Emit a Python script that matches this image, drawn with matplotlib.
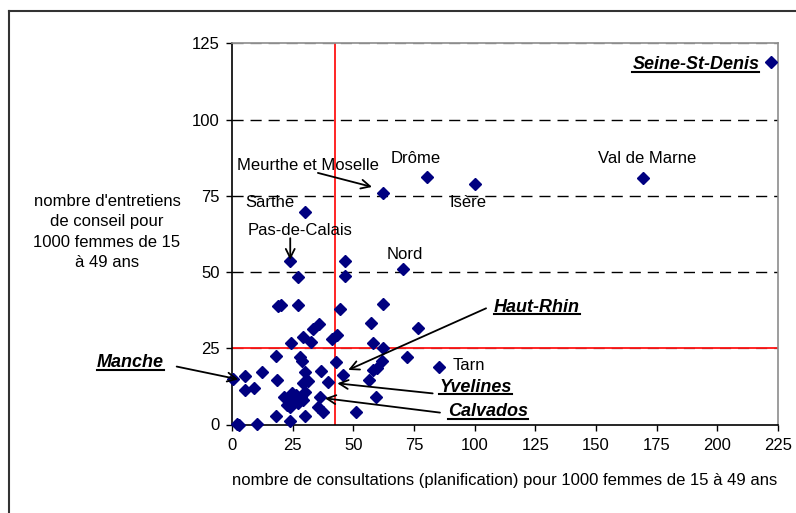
import matplotlib.pyplot as plt
from matplotlib.lines import Line2D

plt.rcParams['font.family'] = ['Liberation Sans', 'DejaVu Sans']

# consultations (x) et entretiens (y) pour 1000 femmes de 15 a 49 ans
consultations = [222.0, 169.5, 80.2, 100.1, 62.3, 30.1, 23.9, 46.6, 70.3, 27.3,
                 46.6, 19.1, 20.2, 27.3, 44.5, 62.1, 57.3, 76.5, 33.5, 36.0,
                 29.4, 32.6, 24.2, 41.1, 43.3, 58.2, 62.3, 72.0, 18.0, 28.0,
                 28.7, 42.7, 61.7, 85.3, 58.2, 59.6, 56.6, 45.9, 5.4, 12.2,
                 30.1, 36.7, 18.7, 39.4, 5.4, 9.1, 29.4, 31.4, 21.6, 23.5,
                 25.7, 28.4, 30.1, 23.9, 27.3, 29.4, 36.3, 59.3, 35.3, 37.6,
                 51.1, 18.0, 30.1, 23.9, 10.2, 1.9, 2.9, 0.3, 22.8, 26.5,
                 24.6]
entretiens = [118.8, 80.8, 81.3, 78.9, 76.0, 69.6, 53.7, 53.7, 51.0, 48.5,
              48.8, 38.7, 39.3, 39.3, 37.8, 39.5, 33.2, 31.6, 31.2, 33.0,
              28.8, 27.2, 26.6, 27.9, 29.5, 26.8, 25.2, 22.0, 22.5, 22.0,
              20.9, 20.5, 20.8, 18.8, 17.9, 18.4, 14.6, 16.2, 15.9, 17.3,
              17.3, 17.7, 14.6, 14.0, 11.3, 11.9, 13.7, 14.3, 9.1, 7.8,
              8.3, 8.9, 10.8, 5.6, 7.0, 8.0, 9.1, 9.1, 5.6, 4.2,
              4.0, 2.8, 2.8, 1.2, 0.2, 0.2, 0.0, 14.8, 6.4, 9.8,
              10.2]

seuil_x = 42.3
seuil_y = 25

fig = plt.figure(figsize=(7.96, 5.13), dpi=100)
ax = fig.add_axes([232 / 796, 1 - 424.5 / 513, 546 / 796, 381.2 / 513])

ax.set_xlim(0, 225)
ax.set_ylim(0, 125)
ax.set_xticks(range(0, 226, 25))
ax.set_yticks(range(0, 126, 25))
ax.tick_params(direction='out', length=4, width=1, labelsize=12, color='black')
ax.tick_params(axis='y', pad=5)
ax.tick_params(axis='x', pad=6)

for s in ['left', 'bottom']:
    ax.spines[s].set_color('black')
    ax.spines[s].set_linewidth(1.2)
for s in ['top', 'right']:
    ax.spines[s].set_color('#8c8c8c')
    ax.spines[s].set_linewidth(1.2)

# grille pointillee
for v in [25, 50, 75, 100, 125]:
    c = '#8c8c8c' if v in (25, 125) else 'black'
    ax.axhline(v, color=c, lw=1, linestyle=(0, (8, 5)), zorder=1)

# seuils en rouge
ax.axvline(seuil_x, color='red', lw=1.2, zorder=2)
ax.axhline(seuil_y, color='red', lw=1.2, zorder=2)

ax.plot(consultations, entretiens, 'D', color='#000080', ms=5.8, mec='#000080',
        clip_on=False, zorder=3)

# etiquettes simples
plain = dict(fontsize=12, ha='center', va='center', annotation_clip=False)
ax.annotate('Val de Marne', xy=(171, 87.1), **plain)
ax.annotate('Drôme', xy=(75.8, 87.1), **plain)
ax.annotate('Isère', xy=(97.2, 72.7), **plain)
ax.annotate('Sarthe', xy=(15.5, 72.9), **plain)
ax.annotate('Nord', xy=(71.2, 55.6), **plain)
ax.annotate('Tarn', xy=(97.5, 19.2), **plain)

arrow = dict(arrowstyle='->', lw=1.3, color='black', mutation_scale=16,
             shrinkA=0, shrinkB=0)
ax.annotate('', xy=(57.7, 77.9), xytext=(35.4, 82.5), arrowprops=arrow,
            annotation_clip=False)
ax.annotate('Meurthe et Moselle', xy=(31.3, 84.8), **plain)
ax.annotate('', xy=(24.0, 54.0), xytext=(24.0, 61.1), arrowprops=arrow,
            annotation_clip=False)
ax.annotate('Pas-de-Calais', xy=(28.0, 63.5), **plain)

# etiquettes soulignees
bold = dict(fontsize=13, fontweight='bold', fontstyle='italic',
            va='center', annotation_clip=False)
souligne = []
souligne.append(ax.annotate('Seine-St-Denis', xy=(217.3, 118.0), ha='right', **bold))
souligne.append(ax.annotate('Haut-Rhin', xy=(125.5, 38.5), ha='center', **bold))
souligne.append(ax.annotate('Yvelines', xy=(100.3, 12.2), ha='center', **bold))
souligne.append(ax.annotate('Calvados', xy=(105.5, 4.2), ha='center', **bold))
souligne.append(ax.annotate('Manche', xy=(-42.0, 20.3), ha='center', **bold))

ax.annotate('', xy=(47.9, 17.9), xytext=(104.7, 38.1), arrowprops=arrow,
            annotation_clip=False)
ax.annotate('', xy=(43.4, 13.5), xytext=(82.7, 10.2), arrowprops=arrow,
            annotation_clip=False)
ax.annotate('', xy=(38.3, 8.6), xytext=(85.7, 3.9), arrowprops=arrow,
            annotation_clip=False)
ax.annotate('', xy=(2.6, 14.8), xytext=(-22.8, 19.0), arrowprops=arrow,
            annotation_clip=False)

fig.text(505 / 796, 1 - 481 / 513,
         'nombre de consultations (planification) pour 1000 femmes de 15 à 49 ans',
         fontsize=12, ha='center', va='center')
fig.text(107 / 796, 1 - 232 / 513,
         "nombre d'entretiens\nde conseil pour\n1000 femmes de 15\nà 49 ans",
         fontsize=12, ha='center', va='center', linespacing=1.45)

# cadre exterieur (coupe a droite et en bas)
fig.add_artist(Line2D([9 / 796, 9 / 796], [0, 1 - 11 / 513],
                      transform=fig.transFigure, color='#333333', lw=1.5))
fig.add_artist(Line2D([9 / 796, 1], [1 - 11 / 513, 1 - 11 / 513],
                      transform=fig.transFigure, color='#333333', lw=1.5))

# soulignement
fig.canvas.draw()
renderer = fig.canvas.get_renderer()
inv = fig.transFigure.inverted()
for t in souligne:
    bb = t.get_window_extent(renderer)
    (x0, y0), (x1, _) = inv.transform([(bb.x0, bb.y0 + 1.5), (bb.x1, bb.y0)])
    fig.add_artist(Line2D([x0, x1], [y0, y0], transform=fig.transFigure,
                          color='black', lw=1.5))

fig.savefig('out.png', dpi=100)
